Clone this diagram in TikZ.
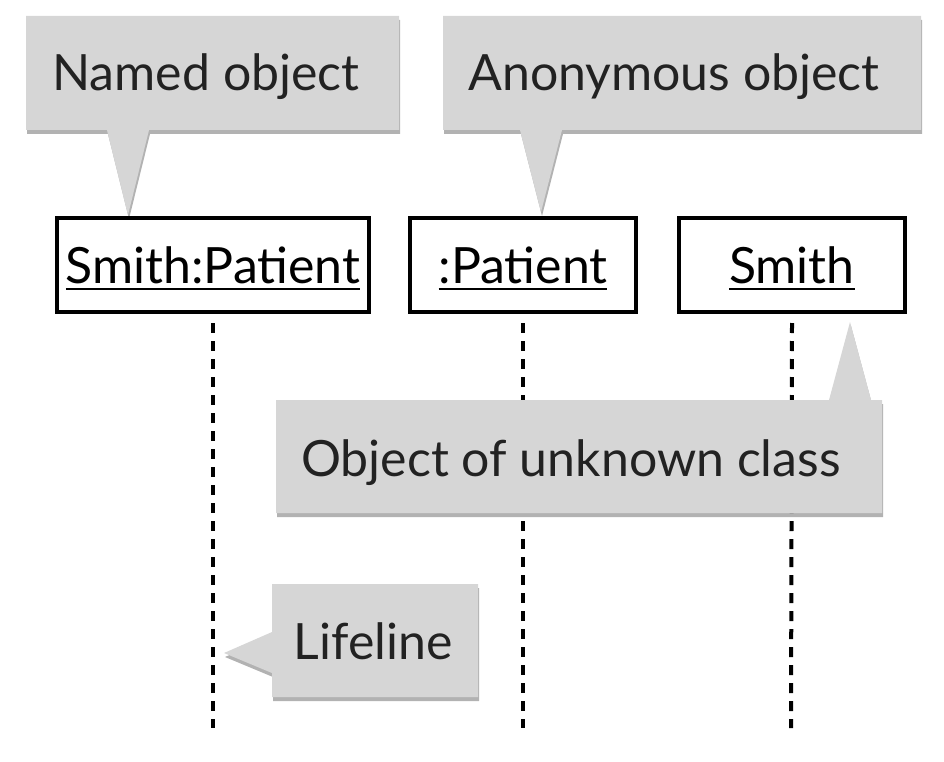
\documentclass[tikz,border=0pt]{standalone}
\usepackage{fontspec}
\setmainfont{Lato}
\usetikzlibrary{shadows}
\definecolor{callfill}{HTML}{D6D6D6}
\definecolor{txt}{HTML}{222222}
\newcommand\ulined[1]{\setbox0\hbox{#1}\rlap{\smash{\rule[-7pt]{\wd0}{2.6pt}}}\box0}
\begin{document}
\begin{tikzpicture}[x=1pt,y=-1pt,
  objbox/.style={draw=black, line width=4pt, minimum height=94pt, inner sep=0pt, font=\fontsize{50}{60}\selectfont},
  lifeline/.style={line width=4pt, dash pattern=on 10pt off 8pt},
  callout/.style={fill=callfill, drop shadow={shadow xshift=1pt, shadow yshift=-4pt, opacity=0.3, fill=black}},
  calltext/.style={anchor=base, inner sep=0pt, text=txt, font=\fontsize{50}{60}\selectfont}]
\useasboundingbox (0,0) rectangle (944,762);

% object boxes
\node[objbox, minimum width=312pt] (sp) at (213,265) {\ulined{Smith:Patient}};
\node[objbox, minimum width=226pt] (ap) at (523,265) {\ulined{:Patient}};
\node[objbox, minimum width=226pt] (sm) at (792,265) {\ulined{Smith}};

% lifelines
\coordinate (e1) at (213,728);
\coordinate (e2) at (523,728);
\coordinate (e3) at (791,728);
\draw[lifeline] ([yshift=-9pt]sp.south) -- (e1);
\draw[lifeline] ([yshift=-9pt]ap.south) -- (e2);
\draw[lifeline] ([yshift=-9pt]sm.south) -- (e3);

% callouts
\fill[callout] (26,16) -- (399,16) -- (399,130) -- (149,130) -- (128,215) -- (107,130) -- (26,130) -- cycle;
\node[calltext] (named) at (206,91) {Named object};

\fill[callout] (443,16) -- (921,16) -- (921,130) -- (562,130) -- (541,212) -- (520,130) -- (443,130) -- cycle;
\node[calltext] (anon) at (674,91) {Anonymous object};

\fill[callout] (276,400) -- (829,400) -- (850,322) -- (871,400) -- (882,400) -- (882,513) -- (276,513) -- cycle;
\node[calltext] (unk) at (571,476) {Object of unknown class};

\fill[callout] (272,584) -- (478,584) -- (478,697) -- (272,697) -- (272,673) -- (224,653) -- (272,632) -- cycle;
\node[calltext] (life) at (373,659) {Lifeline};
\end{tikzpicture}
\end{document}
